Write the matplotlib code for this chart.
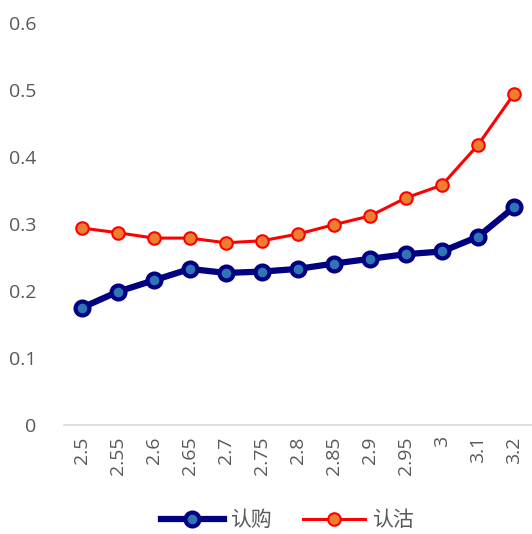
import matplotlib.pyplot as plt
import numpy as np

plt.rcParams['font.family'] = ['Open Sans', 'Noto Sans CJK SC', 'DejaVu Sans']

strikes = ['2.5', '2.55', '2.6', '2.65', '2.7', '2.75', '2.8', '2.85', '2.9', '2.95', '3', '3.1', '3.2']
call_iv = [0.175, 0.199, 0.216, 0.233, 0.227, 0.229, 0.233, 0.241, 0.248, 0.255, 0.259, 0.281, 0.325]
put_iv = [0.294, 0.287, 0.279, 0.279, 0.272, 0.275, 0.285, 0.299, 0.312, 0.339, 0.358, 0.418, 0.494]

fig = plt.figure(figsize=(5.32, 5.34), dpi=100)
ax = fig.add_axes([0.12, 0.204, 0.88, 0.753])

x = np.arange(len(strikes))
ax.plot(x, call_iv, color='#000080', lw=4.5, marker='o', ms=10,
        mfc='#2e75b6', mec='#000080', mew=3, label='认购')
ax.plot(x, put_iv, color='#ff0000', lw=2.2, marker='o', ms=9,
        mfc='#ed7d31', mec='#ff0000', mew=1.5, label='认沽')

ax.set_xlim(-0.5, len(strikes) - 0.5)
ax.set_ylim(0, 0.6)
ax.set_yticks([0, 0.1, 0.2, 0.3, 0.4, 0.5, 0.6])
ax.set_yticklabels(['0', '0.1', '0.2', '0.3', '0.4', '0.5', '0.6'])
ax.set_xticks(x)
ax.set_xticklabels(strikes, rotation=90)

for s in ['top', 'right', 'left']:
    ax.spines[s].set_visible(False)
ax.spines['bottom'].set_color('#d9d9d9')
ax.spines['bottom'].set_linewidth(1.2)
ax.tick_params(axis='both', length=0, labelsize=14, colors='#595959')
ax.tick_params(axis='y', pad=20)
ax.tick_params(axis='x', pad=8)

leg = fig.legend(loc='center', bbox_to_anchor=(0.54, 0.025), ncol=2, frameon=False,
                 fontsize=15, handlelength=3, columnspacing=1.5, handletextpad=0.3)
for t in leg.get_texts():
    t.set_color('#595959')

fig.savefig('out.png', dpi=100)
